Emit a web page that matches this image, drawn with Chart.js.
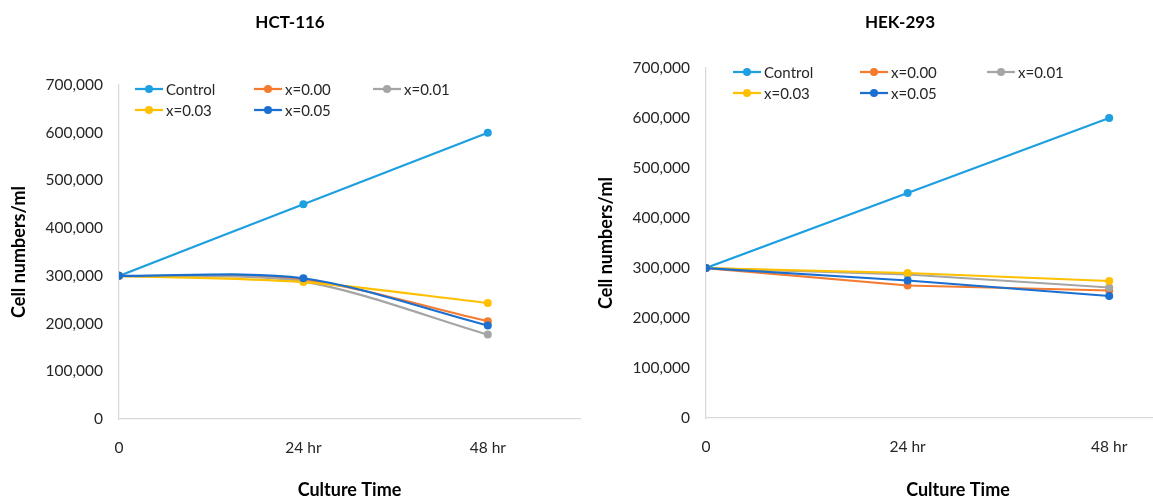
<!DOCTYPE html>
<html>
<head>
<meta charset="utf-8">
<title>Cell growth over culture time</title>
<script src="https://cdn.jsdelivr.net/npm/chart.js@4"></script>
<style>
  html, body { margin: 0; padding: 0; overflow: hidden; background: #ffffff; }
  #stage { position: relative; width: 1153px; height: 499px; overflow: hidden; }
  .panel { position: absolute; top: 0; height: 499px; }
  #panelA { left: 0; width: 683px; }
  #panelB { left: 590px; width: 660px; }
</style>
</head>
<body>
<div id="stage">
  <div class="panel" id="panelA"><canvas id="hct116"></canvas></div>
  <div class="panel" id="panelB"><canvas id="hek293"></canvas></div>
</div>
<script>
// Culture time (hours) and the labels shown under each time point
const timePoints = [0, 24, 48];
const timeTickLabels = ['0', '24 hr', '48 hr'];

// Series names and colours
const seriesNames = ['Control', 'x=0.00', 'x=0.01', 'x=0.03', 'x=0.05'];
const seriesColors = ['#1E9FE0', '#F47B30', '#A5A5A5', '#FFC000', '#1A6FD0'];

// HCT-116 cell counts (cells/ml)
const hctControl = [300000, 450000, 600000];
const hctX000 = [300000, 292000, 205000];
const hctX001 = [300000, 288000, 177000];
const hctX003 = [300000, 287000, 243000];
const hctX005 = [300000, 295000, 196000];

// HEK-293 cell counts (cells/ml)
const hekControl = [300000, 450000, 600000];
const hekX000 = [300000, 265000, 255000];
const hekX001 = [300000, 287000, 261000];
const hekX003 = [300000, 290000, 274000];
const hekX005 = [300000, 275000, 244000];

// Value axis ticks
const yTickValues = [0, 100000, 200000, 300000, 400000, 500000, 600000, 700000];

const FONT = "Lato, 'Open Sans', 'Liberation Sans', sans-serif";
const TEXT = '#262626';

// Legend drawn inside the plot, three entries per row
const inlineLegend = {
  id: 'inlineLegend',
  afterDraw(chart, args, opts) {
    const ctx = chart.ctx;
    const area = chart.chartArea;
    ctx.save();
    ctx.font = '15px ' + FONT;
    ctx.textBaseline = 'middle';
    ctx.textAlign = 'left';
    chart.data.datasets.forEach((ds, i) => {
      const col = i % opts.columns;
      const row = Math.floor(i / opts.columns);
      const x0 = area.left + opts.dx + col * opts.colWidth;
      const y = area.top + opts.dy + row * opts.rowHeight;
      ctx.strokeStyle = ds.borderColor;
      ctx.lineWidth = 2.25;
      ctx.beginPath();
      ctx.moveTo(x0, y);
      ctx.lineTo(x0 + 28, y);
      ctx.stroke();
      ctx.fillStyle = ds.borderColor;
      ctx.beginPath();
      ctx.arc(x0 + 14, y, 4, 0, Math.PI * 2);
      ctx.fill();
      ctx.fillStyle = TEXT;
      ctx.fillText(ds.label, x0 + 31, y + 1);
    });
    ctx.restore();
  }
};

function buildDatasets(seriesValues, tension) {
  return seriesValues.map((vals, i) => ({
    label: seriesNames[i],
    data: timePoints.map((t, k) => ({ x: t, y: vals[k] })),
    borderColor: seriesColors[i],
    backgroundColor: seriesColors[i],
    pointBackgroundColor: seriesColors[i],
    pointBorderColor: seriesColors[i],
    pointRadius: 4,
    pointBorderWidth: 0,
    borderWidth: 2.25,
    tension: tension,
    fill: false,
    order: -i
  }));
}

function buildChart(canvasId, title, seriesValues, tension, geo) {
  return new Chart(document.getElementById(canvasId), {
    type: 'line',
    data: { datasets: buildDatasets(seriesValues, tension) },
    plugins: [inlineLegend],
    options: {
      responsive: true,
      maintainAspectRatio: false,
      animation: false,
      events: [],
      layout: { padding: { left: 0, right: geo.padRight, top: 0, bottom: 0 } },
      plugins: {
        legend: { display: false },
        tooltip: { enabled: false },
        title: {
          display: true,
          text: title,
          color: '#000000',
          font: { family: FONT, size: 17, weight: 'bold', lineHeight: 1.2 },
          padding: { top: 12, bottom: geo.titleBottom }
        },
        inlineLegend: geo.legend
      },
      scales: {
        x: {
          type: 'linear',
          min: 0,
          max: 60,
          afterBuildTicks: (scale) => { scale.ticks = timePoints.map(v => ({ value: v })); },
          afterFit: (scale) => { scale.height = geo.xHeight; },
          grid: { display: false, drawTicks: false },
          border: { display: true, color: '#D9D9D9', width: 1.25 },
          ticks: {
            padding: 20,
            color: TEXT,
            font: { family: FONT, size: 15.5 },
            maxRotation: 0,
            autoSkip: false,
            callback: (value, index) => timeTickLabels[index]
          },
          title: {
            display: true,
            text: 'Culture Time',
            color: '#000000',
            font: { family: FONT, size: 18, weight: 'bold', lineHeight: 1.2 },
            padding: { top: 0, bottom: -2 }
          }
        },
        y: {
          min: 0,
          max: 700000,
          afterBuildTicks: (scale) => { scale.ticks = yTickValues.map(v => ({ value: v })); },
          afterFit: (scale) => { scale.width = geo.yWidth; },
          grid: { display: false, drawTicks: false },
          border: { display: true, color: '#D9D9D9', width: 1.25 },
          ticks: {
            padding: 16,
            color: TEXT,
            font: { family: FONT, size: 15.5 },
            callback: (value) => value.toLocaleString('en-US')
          },
          title: {
            display: true,
            text: 'Cell numbers/ml',
            color: '#000000',
            font: { family: FONT, size: 18, weight: 'bold', lineHeight: 1.2 },
            padding: { top: geo.yTitlePad, bottom: 0 }
          }
        }
      }
    }
  });
}

buildChart('hct116', 'HCT-116',
  [hctControl, hctX000, hctX001, hctX003, hctX005], 0.3,
  { padRight: 103, titleBottom: 52.6, xHeight: 80, yWidth: 119, yTitlePad: 8,
    legend: { dx: 16, dy: 4, colWidth: 119, rowHeight: 21, columns: 3 } });

buildChart('hek293', 'HEK-293',
  [hekControl, hekX000, hekX001, hekX003, hekX005], 0,
  { padRight: 40, titleBottom: 35.6, xHeight: 81, yWidth: 116, yTitlePad: 5,
    legend: { dx: 27, dy: 4, colWidth: 127, rowHeight: 21, columns: 3 } });
</script>
</body>
</html>
